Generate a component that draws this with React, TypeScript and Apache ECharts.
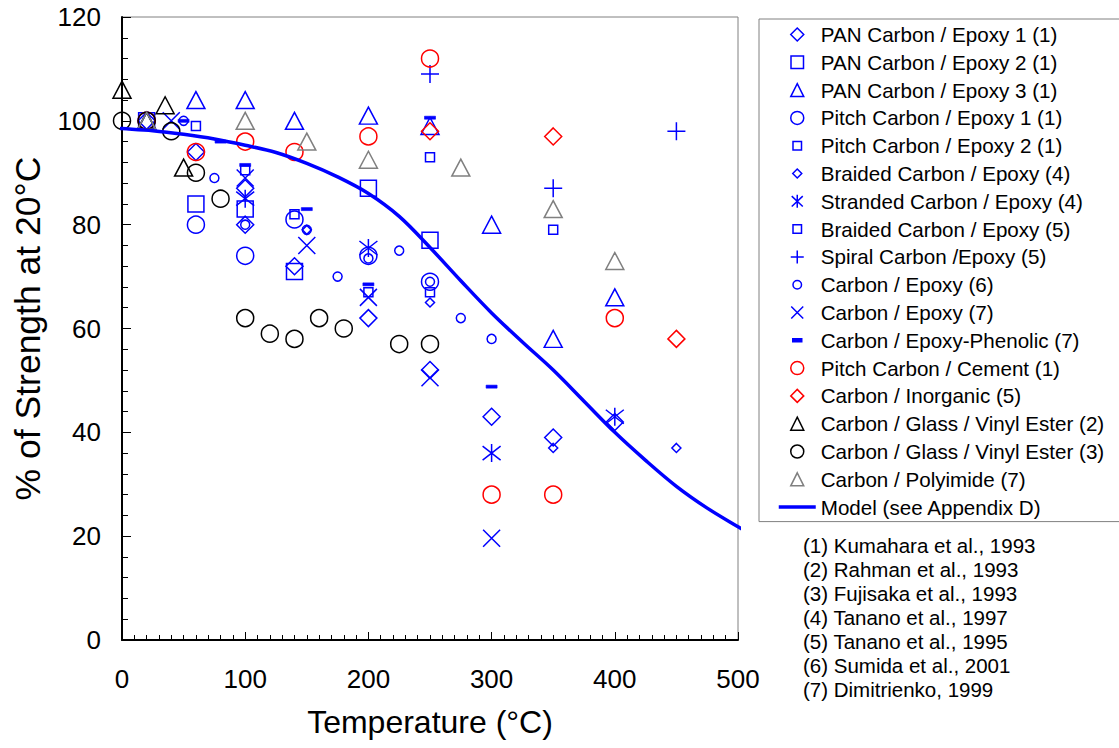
import React, { useEffect, useRef } from 'react';
import * as echarts from 'echarts';

const FONT = '"Liberation Sans", Arial, Helvetica, sans-serif';
const BLUE = '#0000ff';
const RED = '#ff0000';
const BLACK = '#000000';
const GRAY = '#808080';

// ---- data: [temperature °C, % of strength at 20°C] ----
const panEpoxy1 = [[20, 100], [60, 94], [100, 87], [100, 80], [140, 72], [200, 62], [250, 52], [300, 43], [350, 39], [400, 42]];
const panEpoxy2 = [[20, 100], [60, 84], [100, 83], [140, 71], [200, 87], [250, 77]];
const panEpoxy3 = [[20, 100], [60, 104], [100, 104], [140, 100], [200, 101], [250, 99], [300, 80], [350, 58], [400, 66]];
const pitchEpoxy1 = [[20, 100], [60, 80], [100, 74], [140, 81], [200, 74], [250, 69]];
const pitchEpoxy2 = [[60, 99], [100, 90.5], [140, 82], [200, 67], [250, 67]];
const braidedEpoxy4 = [[150, 79], [250, 65], [350, 37], [450, 37]];
const strandedEpoxy4 = [[100, 85], [200, 75.5], [300, 36], [400, 43]];
const braidedEpoxy5 = [[250, 93], [350, 79]];
const spiralEpoxy5 = [[250, 109], [350, 87], [450, 98]];
const carbonEpoxy6 = [[50, 100], [75, 89], [100, 80], [150, 79], [175, 70], [200, 73.5], [225, 75], [250, 69], [275, 62], [300, 58]];
const carbonEpoxy7 = [[40, 100], [100, 89], [150, 76], [200, 66], [250, 50.5], [300, 19.6]];
const epoxyPhenolic7 = [[50, 100], [80, 96], [100, 91.5], [150, 83], [200, 68.5], [250, 100.6], [300, 48.8]];
const pitchCement1 = [[20, 100], [60, 94], [100, 96], [140, 94], [200, 97], [250, 112], [300, 28], [350, 28], [400, 62]];
const carbonInorganic5 = [[250, 98], [350, 97], [450, 58]];
const glassVinyl2 = [[0, 106], [20, 100], [35, 103], [50, 91]];
const glassVinyl3 = [[0, 100], [20, 100], [40, 98], [60, 90], [80, 85], [100, 62], [120, 59], [140, 58], [160, 62], [180, 60], [225, 57], [250, 57]];
const polyimide7 = [[20, 100], [100, 100], [150, 96], [200, 92.5], [275, 91], [350, 83], [400, 73]];

const modelTemps = [-7, 0, 25, 50, 75, 100, 125, 150, 175, 200, 225, 250, 275, 300, 325, 350, 375, 400, 425, 450, 475, 500, 506];
const modelValues = [98.6, 98.5, 98.1, 97.4, 96.5, 95.3, 93.9, 91.8, 89.2, 86, 81.6, 75.6, 69.2, 63, 57.4, 52, 46, 40, 34.6, 29.6, 25.4, 21.8, 21];

const references = [
  '(1) Kumahara et al., 1993',
  '(2) Rahman et al., 1993',
  '(3) Fujisaka et al., 1993',
  '(4) Tanano et al., 1997',
  '(5) Tanano et al., 1995',
  '(6) Sumida et al., 2001',
  '(7) Dimitrienko, 1999',
];

const xMin = 0, xMax = 500, xStep = 100;
const yMin = 0, yMax = 120, yStep = 20;

// ---- marker shapes ----
const SYM: Record<string, string> = {
  diamond: 'diamond',
  square: 'rect',
  triangle: 'triangle',
  circle: 'circle',
  plus: 'path://M9 0L9 18M0 9L18 9',
  cross: 'path://M0 0L18 18M18 0L0 18',
  asterisk: 'path://M9 0L9 18M1 2L17 16M17 2L1 16',
  dash: 'path://M0 0L12 0L12 3L0 3Z',
};

function legendIcon(kind: string, s: number): string {
  const cx = 18.5, cy = 7, h = s / 2;
  let d = '';
  switch (kind) {
    case 'diamond':
      d = `M${cx} ${cy - h}L${cx + h} ${cy}L${cx} ${cy + h}L${cx - h} ${cy}Z`; break;
    case 'square':
      d = `M${cx - h} ${cy - h}L${cx + h} ${cy - h}L${cx + h} ${cy + h}L${cx - h} ${cy + h}Z`; break;
    case 'triangle':
      d = `M${cx} ${cy - h}L${cx + h} ${cy + h}L${cx - h} ${cy + h}Z`; break;
    case 'circle':
      d = `M${cx - h} ${cy}A${h} ${h} 0 1 0 ${cx + h} ${cy}A${h} ${h} 0 1 0 ${cx - h} ${cy}Z`; break;
    case 'plus':
      d = `M${cx} ${cy - h}L${cx} ${cy + h}M${cx - h} ${cy}L${cx + h} ${cy}`; break;
    case 'cross':
      d = `M${cx - h} ${cy - h}L${cx + h} ${cy + h}M${cx + h} ${cy - h}L${cx - h} ${cy + h}`; break;
    case 'asterisk':
      d = `M${cx} ${cy - h}L${cx} ${cy + h}M${cx - h * 0.85} ${cy - h * 0.8}L${cx + h * 0.85} ${cy + h * 0.8}M${cx + h * 0.85} ${cy - h * 0.8}L${cx - h * 0.85} ${cy + h * 0.8}`; break;
    case 'dash':
      d = `M${cx - 4.5} ${cy - 1.5}L${cx + 4.5} ${cy - 1.5}L${cx + 4.5} ${cy + 1.5}L${cx - 4.5} ${cy + 1.5}Z`; break;
    case 'line':
      d = `M0 ${cy - 1.75}L37 ${cy - 1.75}L37 ${cy + 1.75}L0 ${cy + 1.75}Z`; break;
  }
  return 'path://M0 0M37 14' + d;
}

type Spec = {
  name: string;
  data: number[][];
  kind: string;
  size: number | number[];
  legendSize: number;
  color: string;
  filled?: boolean;
};

const specs: Spec[] = [
  { name: 'PAN Carbon / Epoxy 1 (1)', data: panEpoxy1, kind: 'diamond', size: 17, legendSize: 13, color: BLUE },
  { name: 'PAN Carbon / Epoxy 2 (1)', data: panEpoxy2, kind: 'square', size: 16, legendSize: 12.5, color: BLUE },
  { name: 'PAN Carbon / Epoxy 3 (1)', data: panEpoxy3, kind: 'triangle', size: [18, 17], legendSize: 13, color: BLUE },
  { name: 'Pitch Carbon / Epoxy 1 (1)', data: pitchEpoxy1, kind: 'circle', size: 17, legendSize: 13, color: BLUE },
  { name: 'Pitch Carbon / Epoxy 2 (1)', data: pitchEpoxy2, kind: 'square', size: 9, legendSize: 8.5, color: BLUE },
  { name: 'Braided Carbon / Epoxy (4)', data: braidedEpoxy4, kind: 'diamond', size: 9, legendSize: 9, color: BLUE },
  { name: 'Stranded Carbon / Epoxy (4)', data: strandedEpoxy4, kind: 'asterisk', size: 18, legendSize: 13, color: BLUE },
  { name: 'Braided Carbon / Epoxy (5)', data: braidedEpoxy5, kind: 'square', size: 9, legendSize: 8.5, color: BLUE },
  { name: 'Spiral Carbon /Epoxy (5)', data: spiralEpoxy5, kind: 'plus', size: 18, legendSize: 13, color: BLUE },
  { name: 'Carbon / Epoxy (6)', data: carbonEpoxy6, kind: 'circle', size: 9, legendSize: 8.5, color: BLUE },
  { name: 'Carbon / Epoxy (7)', data: carbonEpoxy7, kind: 'cross', size: 17, legendSize: 12, color: BLUE },
  { name: 'Carbon / Epoxy-Phenolic (7)', data: epoxyPhenolic7, kind: 'dash', size: [11, 3], legendSize: 9, color: BLUE, filled: true },
  { name: 'Pitch Carbon / Cement (1)', data: pitchCement1, kind: 'circle', size: 17, legendSize: 13, color: RED },
  { name: 'Carbon / Inorganic (5)', data: carbonInorganic5, kind: 'diamond', size: 17, legendSize: 13, color: RED },
  { name: 'Carbon / Glass / Vinyl Ester (2)', data: glassVinyl2, kind: 'triangle', size: [18, 17], legendSize: 13, color: BLACK },
  { name: 'Carbon / Glass / Vinyl Ester (3)', data: glassVinyl3, kind: 'circle', size: 17, legendSize: 13, color: BLACK },
  { name: 'Carbon / Polyimide (7)', data: polyimide7, kind: 'triangle', size: [18, 17], legendSize: 13, color: GRAY },
];

const MODEL_NAME = 'Model (see Appendix D)';

function buildOption() {
  const scatterSeries = specs.map((s) => ({
    type: 'scatter',
    name: s.name,
    data: s.data,
    symbol: SYM[s.kind],
    symbolSize: s.size,
    silent: true,
    itemStyle: {
      color: s.filled ? s.color : 'rgba(0,0,0,0)',
      borderColor: s.color,
      borderWidth: s.filled ? 0.5 : 1.5,
      opacity: 1,
    },
    z: 2,
  }));

  const modelSeries = {
    type: 'line',
    name: MODEL_NAME,
    data: modelTemps.map((t, i) => [t, modelValues[i]]),
    smooth: 0.35,
    symbol: 'none',
    showSymbol: false,
    clip: false,
    silent: true,
    color: BLUE,
    lineStyle: { color: BLUE, width: 3.5 },
    z: 3,
  };

  const legendData = [
    ...specs.map((s) => ({ name: s.name, icon: legendIcon(s.kind, s.legendSize) })),
    { name: MODEL_NAME, icon: legendIcon('line', 0), itemStyle: { borderWidth: 0 } },
  ];

  return {
    animation: false,
    backgroundColor: '#ffffff',
    textStyle: { fontFamily: FONT },
    grid: {
      left: 122,
      top: 17,
      right: 381,
      bottom: 108,
      show: true,
      borderColor: GRAY,
      borderWidth: 1,
      backgroundColor: 'transparent',
    },
    xAxis: {
      type: 'value',
      min: xMin,
      max: xMax,
      interval: xStep,
      name: 'Temperature (°C)',
      nameLocation: 'middle',
      nameGap: 66,
      nameTextStyle: { fontSize: 32, color: BLACK, fontFamily: FONT },
      axisLine: { show: true, onZero: false, lineStyle: { color: BLACK, width: 2 } },
      axisTick: { show: true, inside: true, length: 8, lineStyle: { color: BLACK, width: 1 } },
      minorTick: { show: true, splitNumber: 10, length: 5, lineStyle: { color: BLACK, width: 1 } },
      axisLabel: { fontSize: 26, color: BLACK, margin: 26, fontFamily: FONT },
      splitLine: { show: false },
    },
    yAxis: {
      type: 'value',
      min: yMin,
      max: yMax,
      interval: yStep,
      name: '% of Strength at 20°C',
      nameLocation: 'middle',
      nameGap: 76,
      nameTextStyle: { fontSize: 35.5, color: BLACK, fontFamily: FONT },
      axisLine: { show: true, onZero: false, lineStyle: { color: BLACK, width: 2 } },
      axisTick: { show: true, inside: true, length: 9, lineStyle: { color: BLACK, width: 1 } },
      minorTick: { show: true, splitNumber: 5, length: 6, lineStyle: { color: BLACK, width: 1 } },
      axisLabel: { fontSize: 26, color: BLACK, margin: 21, fontFamily: FONT },
      splitLine: { show: false },
    },
    legend: {
      orient: 'vertical',
      left: 759,
      top: 19,
      padding: [5, 60, 4, 19],
      itemWidth: 37,
      itemHeight: 14,
      itemGap: 6.8,
      borderColor: GRAY,
      borderWidth: 1,
      selectedMode: false,
      textStyle: { fontSize: 20.6, color: BLACK, fontFamily: FONT },
      itemStyle: { borderWidth: 1.5 },
      data: legendData,
    },
    graphic: references.map((t, i) => ({
      type: 'text',
      x: 803,
      y: 545 + i * 24,
      silent: true,
      style: {
        text: t,
        fontSize: 20.5,
        fontFamily: FONT,
        fill: BLACK,
        align: 'left',
        verticalAlign: 'middle',
      },
    })),
    series: [...scatterSeries, modelSeries],
  };
}

export default function App() {
  const ref = useRef<HTMLDivElement>(null);
  useEffect(() => {
    if (!ref.current) return;
    const chart = echarts.init(ref.current, undefined, { renderer: 'svg' });
    chart.setOption(buildOption() as any);
    return () => chart.dispose();
  }, []);
  return (
    <div
      ref={ref}
      style={{ position: 'fixed', left: 0, top: 0, width: 1119, height: 748, background: '#fff' }}
    />
  );
}
